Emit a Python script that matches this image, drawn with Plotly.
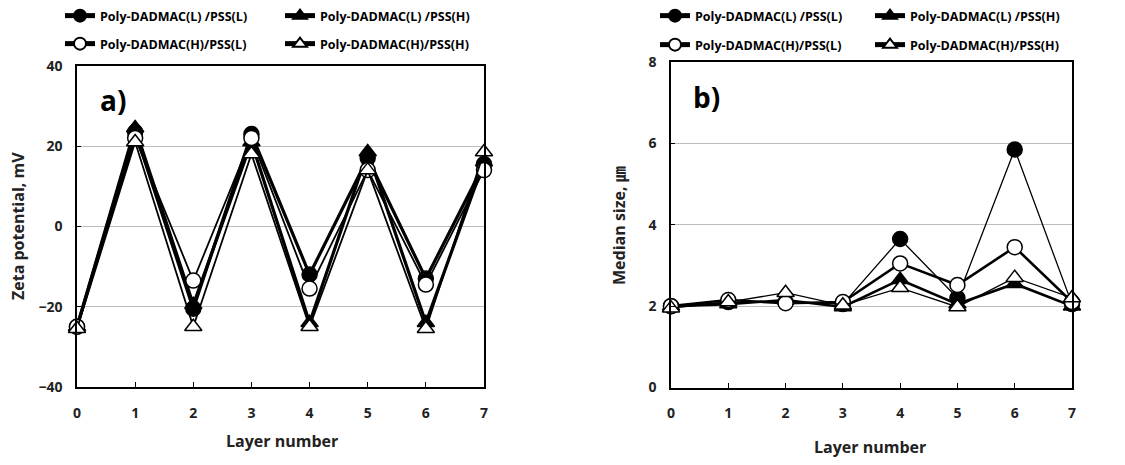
import plotly.graph_objects as go

layers = [0, 1, 2, 3, 4, 5, 6, 7]
names = ["Poly-DADMAC(L) /PSS(L)", "Poly-DADMAC(L) /PSS(H)",
         "Poly-DADMAC(H)/PSS(L)", "Poly-DADMAC(H)/PSS(H)"]

# panel a) zeta potential, mV
zeta_LL = [-25, 23.5, -20.5, 23, -12, 17, -13, 15.5]
zeta_LH = [-25, 24.5, -19.5, 21, -24, 18.5, -24, 16]
zeta_HL = [-25, 22, -13.5, 22, -15.5, 14, -14.5, 14]
zeta_HH = [-25.5, 21, -25, 18, -25, 14, -25.5, 18.5]

# panel b) median size, um
size_LL = [2.0, 2.1, 2.1, 2.05, 3.65, 2.2, 5.85, 2.05]
size_LH = [2.0, 2.05, 2.15, 1.98, 2.65, 2.05, 2.55, 2.0]
size_HL = [2.0, 2.15, 2.07, 2.1, 3.05, 2.52, 3.45, 2.1]
size_HH = [1.95, 2.1, 2.33, 2.02, 2.45, 1.98, 2.7, 2.2]

FONT = "Open Sans, Noto Sans CJK KR, sans-serif"
symbols = ["circle", "triangle-up", "circle", "triangle-up"]
fills = ["black", "black", "white", "white"]

fig = go.Figure()

a_series = [zeta_LL, zeta_LH, zeta_HL, zeta_HH]
b_series = [size_LL, size_LH, size_HL, size_HH]
a_widths = [3.2, 3.2, 1.8, 1.8]
b_widths = [1.3, 2.6, 2.6, 1.3]
legs_a = ["legend", "legend", "legend2", "legend2"]
legs_b = ["legend3", "legend3", "legend4", "legend4"]

for i in range(4):
    fig.add_trace(go.Scatter(
        x=layers, y=a_series[i], name=names[i], mode="lines+markers",
        line=dict(color="black", width=a_widths[i]),
        marker=dict(symbol=symbols[i], size=15, color=fills[i],
                    line=dict(color="black", width=1.5)),
        cliponaxis=False, xaxis="x", yaxis="y", legend=legs_a[i]))
for i in range(4):
    fig.add_trace(go.Scatter(
        x=layers, y=b_series[i], name=names[i], mode="lines+markers",
        line=dict(color="black", width=b_widths[i]),
        marker=dict(symbol=symbols[i], size=15, color=fills[i],
                    line=dict(color="black", width=1.5)),
        cliponaxis=False, xaxis="x2", yaxis="y2", legend=legs_b[i]))

W, H = 1125, 465
OFF = 8  # page body margin offset
def px_x(p):
    return (p - OFF) / W
def px_y(p):
    return 1 - (p - OFF) / H

axis_common = dict(showline=True, linecolor="black", linewidth=1.5, mirror=True,
                   zeroline=False, automargin=False, tickcolor="black",
                   tickfont=dict(family=FONT, size=14, color="#222", weight="bold"))
xax = dict(range=[0, 7], tickvals=layers, ticks="inside", ticklen=5,
           showgrid=False, ticklabelstandoff=12, **axis_common)
yax = dict(ticks="inside", ticklen=4, showgrid=True, gridcolor="#bdbdbd",
           gridwidth=1, ticklabelstandoff=10, **axis_common)

fig.update_layout(
    width=W, height=H, margin=dict(l=0, r=0, t=0, b=0, autoexpand=False),
    paper_bgcolor="white", plot_bgcolor="white",
    font=dict(family=FONT, color="black"),
    xaxis=dict(domain=[px_x(77), px_x(484)], anchor="y", **xax),
    yaxis=dict(domain=[px_y(387), px_y(65.7)], range=[-40, 40],
               tickvals=[-40, -20, 0, 20, 40], anchor="x", **yax),
    xaxis2=dict(domain=[px_x(671), px_x(1072)], anchor="y2", **xax),
    yaxis2=dict(domain=[px_y(387.5), px_y(62)], range=[0, 8],
                tickvals=[0, 2, 4, 6, 8], anchor="x2", **yax),
)

leg_font = dict(family=FONT, size=12.5, color="black", weight="bold")
def leg(x, y, ew):
    return dict(x=px_x(x), y=px_y(y), xanchor="left", yanchor="middle",
                orientation="h", entrywidth=ew, entrywidthmode="pixels",
                font=leg_font, bgcolor="rgba(0,0,0,0)", itemsizing="constant",
                tracegroupgap=0)

fig.update_layout(
    legend=leg(60, 16, 175), legend2=leg(60, 44, 175),
    legend3=leg(655, 16, 170), legend4=leg(655, 45, 170),
)

title_font = dict(family=FONT, size=16, color="#222", weight="bold")
def ann(text, x, y, angle=0, font=title_font):
    fig.add_annotation(text=text, x=px_x(x), y=px_y(y), xref="paper", yref="paper",
                       xanchor="center", yanchor="middle", textangle=angle,
                       showarrow=False, font=font)

ann("Zeta potential, mV", 18, 226, -90)
ann("Layer number", 282, 441)
ann("Median size, ㎛", 619, 226, -90)
ann("Layer number", 870, 447)

lab_font = dict(family=FONT, size=28, color="black", weight="bold")
ann("a)", 113, 100, 0, lab_font)
ann("b)", 706, 97, 0, lab_font)

fig.write_html("out.html")
